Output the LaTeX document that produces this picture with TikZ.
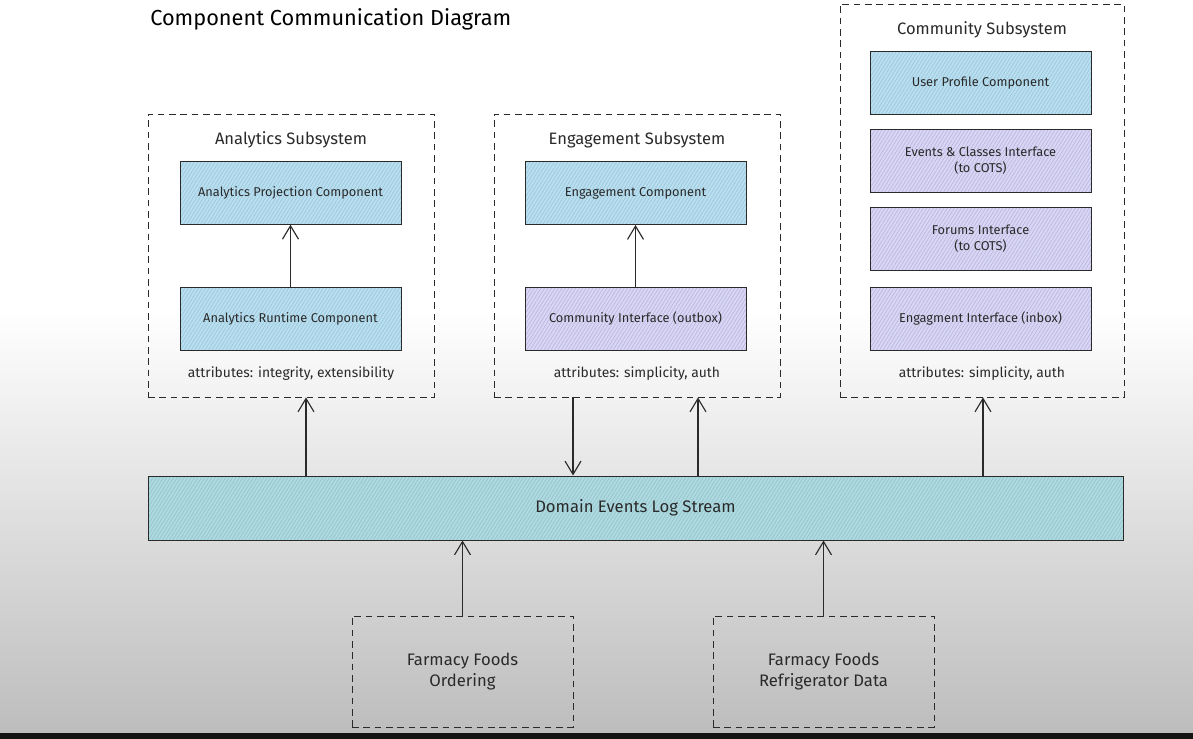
\documentclass[tikz,border=0pt]{standalone}
\usepackage{fontspec}
\setmainfont{Fira Sans}
\usetikzlibrary{arrows.meta,patterns.meta}
\definecolor{cblue}{HTML}{BADEEE}
\definecolor{cblueline}{HTML}{8EC4DC}
\definecolor{cpurple}{HTML}{D8D6F3}
\definecolor{cpurpleline}{HTML}{B2AEDD}
\definecolor{cbar}{HTML}{AFD9DF}
\definecolor{cbarline}{HTML}{88C0C8}
\definecolor{bgbot}{HTML}{BDBDBD}
\definecolor{ink}{HTML}{2A2A2A}
\begin{document}
\begin{tikzpicture}[x=0.75pt,y=-0.75pt,
  comp/.style={draw=ink,line width=0.75pt,minimum width=221*0.75pt,minimum height=63*0.75pt,inner sep=0pt,align=center,text=ink,font=\fontsize{9.6}{12}\selectfont},
  bluebox/.style={comp,preaction={fill=cblue},pattern={Lines[angle=58,distance=2.2pt,line width=0.35pt]},pattern color=cblueline},
  purplebox/.style={comp,preaction={fill=cpurple},pattern={Lines[angle=58,distance=2.2pt,line width=0.35pt]},pattern color=cpurpleline},
  subsys/.style={draw=ink,line width=0.65pt,dash pattern=on 5pt off 3.5pt,inner sep=0pt,minimum width=286*0.75pt},
  srcbox/.style={draw=ink,line width=0.65pt,dash pattern=on 5pt off 3.5pt,inner sep=0pt,minimum width=221*0.75pt,minimum height=111*0.75pt,align=center,text=ink,font=\fontsize{12.5}{15.75}\selectfont},
  stitle/.style={text=ink,font=\fontsize{12.4}{14}\selectfont},
  attr/.style={text=ink,font=\fontsize{10.4}{12}\selectfont},
  arr/.style={draw=ink,line width=0.85pt,-{Straight Barb[length=10pt,width=12pt,line width=0.85pt]}}
]
% background
\useasboundingbox (0,0) rectangle (1193,739);
\fill[white] (0,0) rectangle (1193,310);
\shade[top color=white,bottom color=bgbot] (0,310) rectangle (1193,733);
\fill[black!92] (0,733) rectangle (1193,739);

% title
\node[anchor=west,inner sep=0pt,text=black,font=\fontsize{16.3}{18}\selectfont] (title) at (150,19) {Component Communication Diagram};

% Analytics subsystem
\node[subsys,minimum height=283*0.75pt] (ansub) at (291,255.5) {};
\node[stitle] (antitle) at (291,140) {Analytics Subsystem};
\node[bluebox] (anproj) at (290.5,193) {Analytics Projection Component};
\node[bluebox] (anrun) at (290.5,318.5) {Analytics Runtime Component};
\node[attr] (anattr) at (291,374) {attributes: integrity, extensibility};
\draw[arr] (anrun) -- (anproj);

% Engagement subsystem
\node[subsys,minimum height=283*0.75pt] (ensub) at (637,255.5) {};
\node[stitle] (entitle) at (637,140) {Engagement Subsystem};
\node[bluebox] (encomp) at (635.5,193) {Engagement Component};
\node[purplebox] (encomm) at (635.5,318.5) {Community Interface (outbox)};
\node[attr] (enattr) at (637,374) {attributes: simplicity, auth};
\draw[arr] (encomm) -- (encomp);

% Community subsystem
\node[subsys,minimum width=284*0.75pt,minimum height=393*0.75pt] (cosub) at (982,200.5) {};
\node[stitle] (cotitle) at (982,30) {Community Subsystem};
\node[bluebox] (couser) at (980.5,83) {User Profile Component};
\node[purplebox] (coevents) at (980.5,161) {Events \& Classes Interface\\(to COTS)};
\node[purplebox] (coforums) at (980.5,239) {Forums Interface\\(to COTS)};
\node[purplebox] (coengage) at (980.5,318.5) {Engagment Interface (inbox)};
\node[attr] (coattr) at (982,374) {attributes: simplicity, auth};

% Domain events bar
\node[draw=ink,line width=0.75pt,minimum width=975*0.75pt,minimum height=64*0.75pt,inner sep=0pt,
  preaction={fill=cbar},pattern={Lines[angle=58,distance=2.2pt,line width=0.35pt]},pattern color=cbarline,
  text=ink,font=\fontsize{12.5}{14}\selectfont] (bar) at (635.5,508) {Domain Events Log Stream};

% sources
\node[srcbox] (ford) at (462.5,671.5) {Farmacy Foods\\Ordering};
\node[srcbox] (frefr) at (823.5,671.5) {Farmacy Foods\\Refrigerator Data};

% connectors
\coordinate (x1) at (306,0);
\coordinate (x2) at (573,0);
\coordinate (x3) at (698,0);
\coordinate (x4) at (983,0);
\draw[arr] (bar.north -| x1) -- (ansub.south -| x1);
\draw[arr] (ensub.south -| x2) -- (bar.north -| x2);
\draw[arr] (bar.north -| x3) -- (ensub.south -| x3);
\draw[arr] (bar.north -| x4) -- (cosub.south -| x4);
\draw[arr] (ford.north) -- (bar.south -| ford.north);
\draw[arr] (frefr.north) -- (bar.south -| frefr.north);
\end{tikzpicture}
\end{document}
